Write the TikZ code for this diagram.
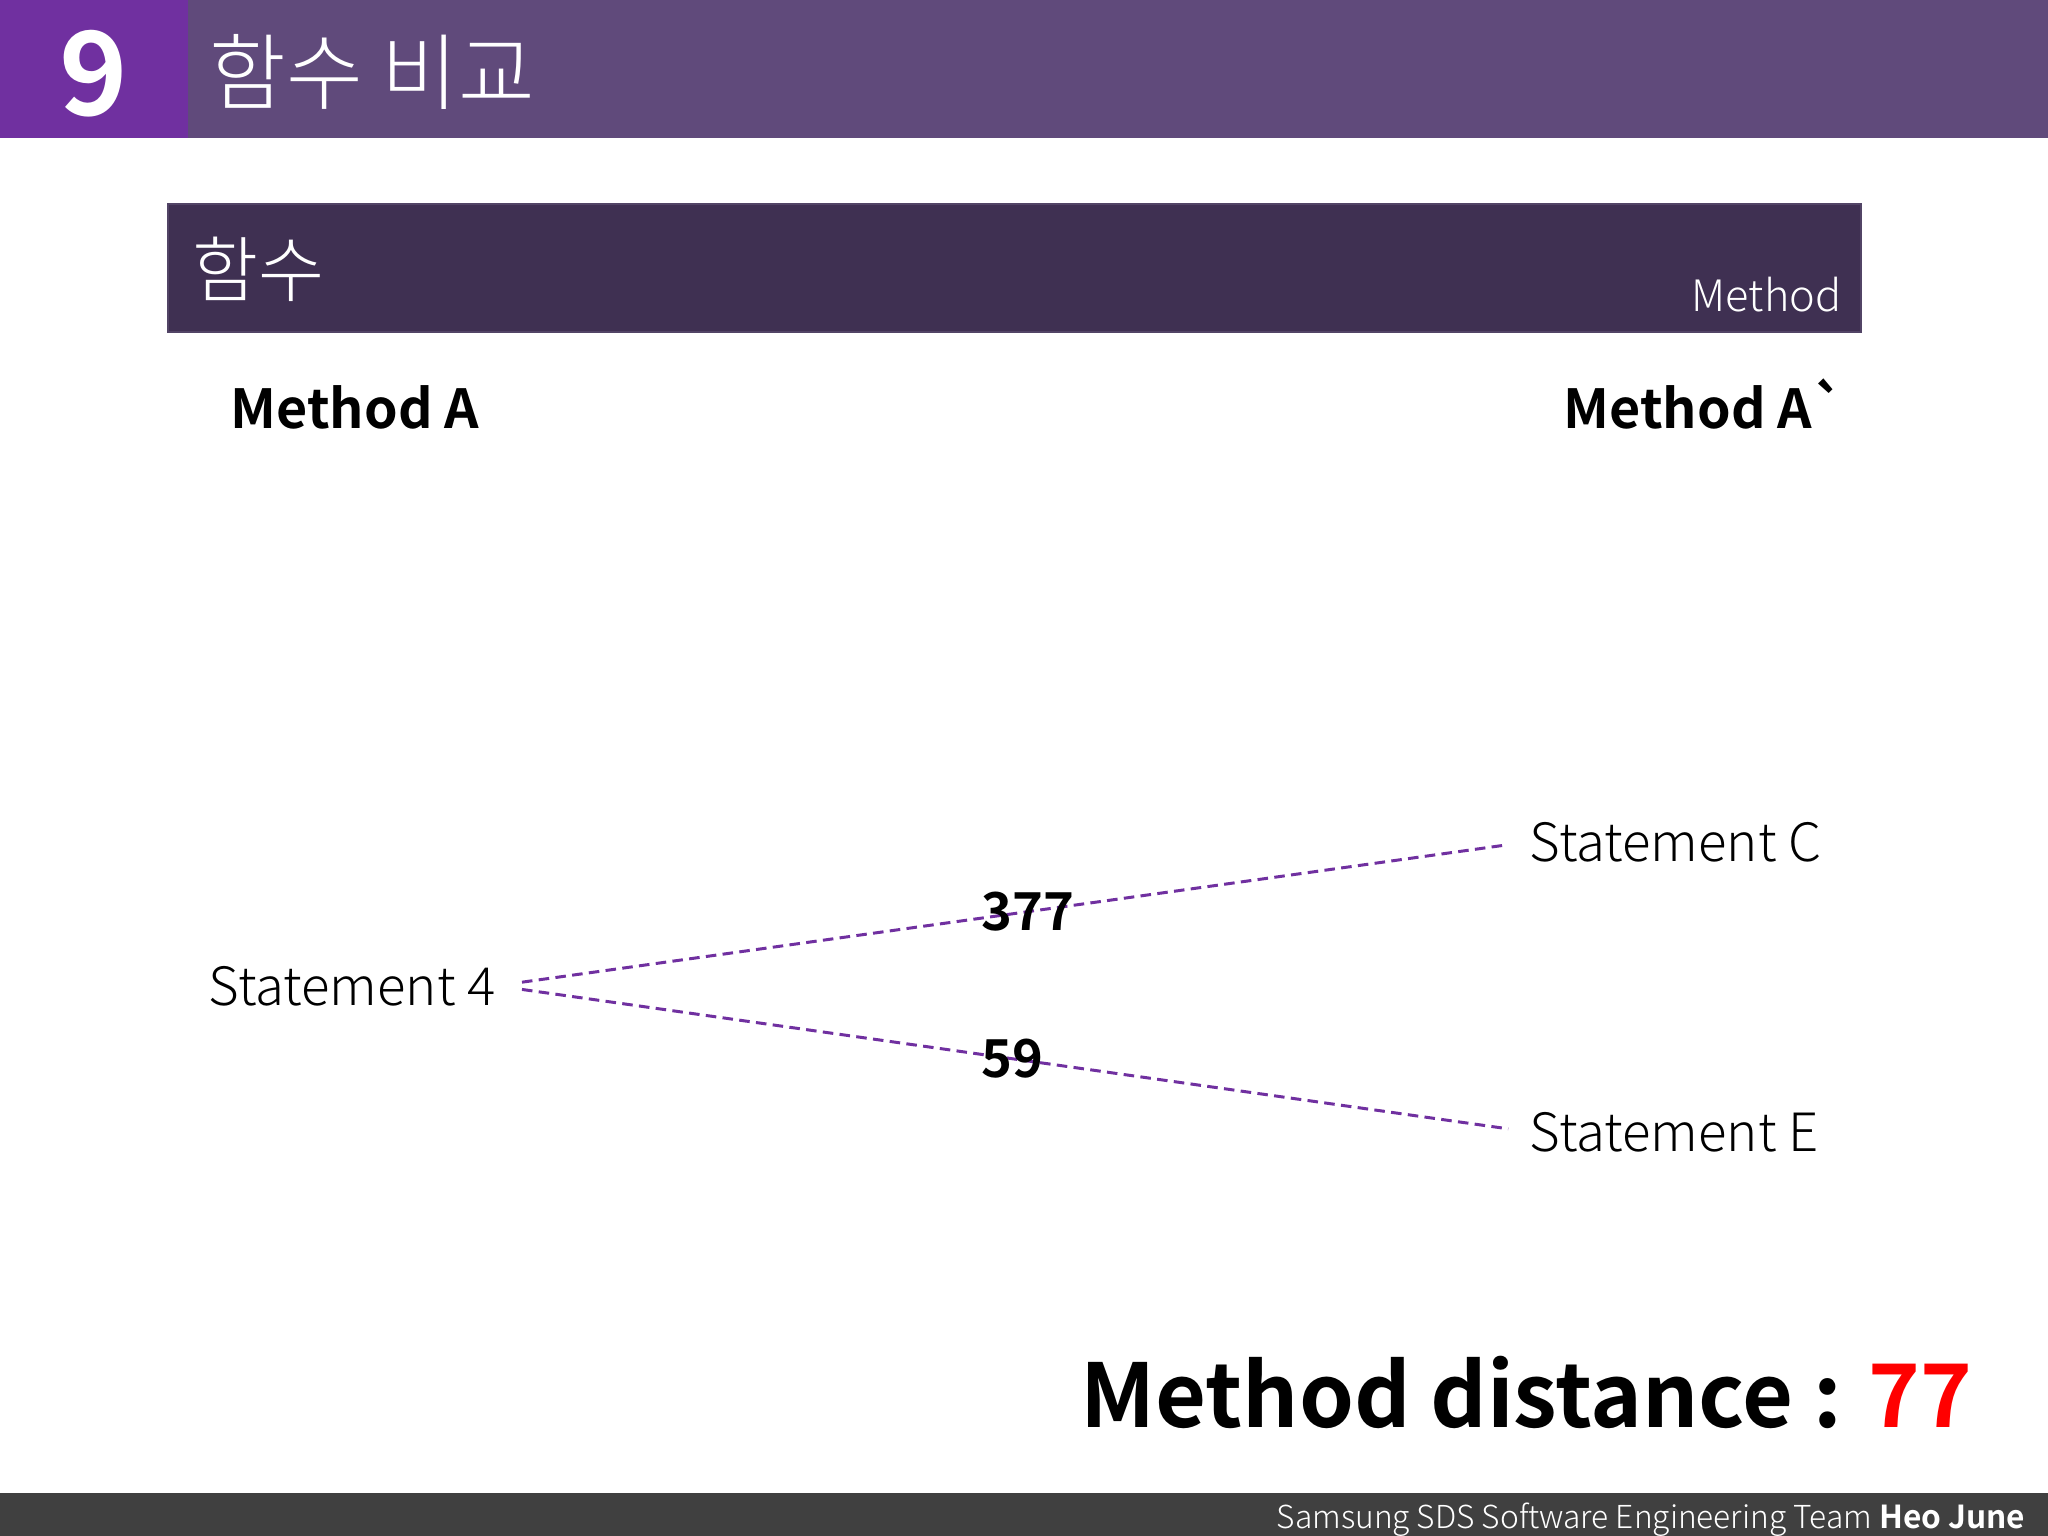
\documentclass[tikz,border=0pt]{standalone}
\usepackage{xcolor}
\usepackage{fontspec}
\setmainfont{Noto Sans CJK KR}[BoldFont={Noto Sans CJK KR Bold}]
\newfontfamily\lightfont{Noto Sans CJK KR Light}
\newfontfamily\headfont{Noto Sans CJK KR Bold}[Ligatures=TeXOff]
\usepackage{tikz}
\usetikzlibrary{positioning, calc}
\definecolor{SDSPurple}{RGB}{112,48,160}
\definecolor{SDSBar}{RGB}{96,74,123}
\definecolor{SDSDark}{RGB}{63,48,82}
\definecolor{SDSEdge}{RGB}{82,68,102}
\definecolor{SDSFoot}{RGB}{64,64,64}
\definecolor{SDSRed}{RGB}{255,0,0}
\tikzset{
    numtext/.style={
        font=\headfont\fontsize{33}{36}\selectfont, text=white, inner sep=0pt
    },
    titletext/.style={
        font=\lightfont\fontsize{23.7}{26}\selectfont, text=white, inner sep=0pt
    },
    subbox/.style={
        fill=SDSDark, draw=SDSEdge, line width=0.6pt
    },
    subtext/.style={
        font=\lightfont\fontsize{20.4}{23}\selectfont, text=white, inner sep=0pt
    },
    tagtext/.style={
        font=\lightfont\fontsize{12.3}{14}\selectfont, text=white, inner sep=0pt
    },
    headtext/.style={
        font=\headfont\fontsize{15.3}{18}\selectfont, inner sep=0pt
    },
    stmtbox/.style={
        font=\lightfont\fontsize{15}{18}\selectfont, inner sep=0pt
    },
    link/.style={
        draw=SDSPurple, line width=0.85pt, dash pattern=on 3pt off 1.8pt,
        shorten <=0.26cm, shorten >=0.21cm
    },
    distlabel/.style={
        font=\headfont\fontsize{14.9}{17}\selectfont, inner sep=0pt
    },
    totaltext/.style={
        font=\headfont\fontsize{25}{29}\selectfont, inner sep=0pt
    },
    foottext/.style={
        font=\lightfont\fontsize{9}{11}\selectfont, text=white, inner sep=0pt
    }
}

\begin{document}
\begin{tikzpicture}[x=0.01cm, y=-0.01cm]
                \useasboundingbox (0,0) rectangle (2048,1536);
                \fill[SDSBar] (0,0) rectangle (2048,138);
                \fill[SDSPurple] (0,0) rectangle (188,138);
                \node[numtext] (num) at (94,74) {9};
                \node[titletext, anchor=west] (title) at (209,72) {함수 비교};
                \draw[subbox] (168,204) rectangle (1861,332);
                \node[subtext, anchor=west] (sub) at (192,269) {함수};
                \node[tagtext, anchor=base east] (tag) at (1842,311) {Method};
                \node[headtext, anchor=base west] (ma) at (230,428) {Method A};
                \node[headtext, anchor=base west] (mb) at (1563,428) {Method A`};
                \node[stmtbox, anchor=base west] (s4) at (208,1005) {Statement 4};
                \node[stmtbox, anchor=base west] (sc) at (1529,861) {Statement C};
                \node[stmtbox, anchor=base west] (se) at (1529,1151) {Statement E};
                \draw[link] (s4.east) -- node[distlabel, pos=0.515] (dc) {377} (sc.west);
                \draw[link] (s4.east) -- node[distlabel, pos=0.5] (de) {59} (se.west);
                \node[totaltext, anchor=base west] (total) at (1080,1427) {Method distance : {\color{SDSRed}77}};
                \fill[SDSFoot] (0,1493) rectangle (2048,1536);
                \node[foottext, anchor=base east] (foot) at (2026,1528) {Samsung SDS Software Engineering Team {\headfont Heo June}};
\end{tikzpicture}
\end{document}
